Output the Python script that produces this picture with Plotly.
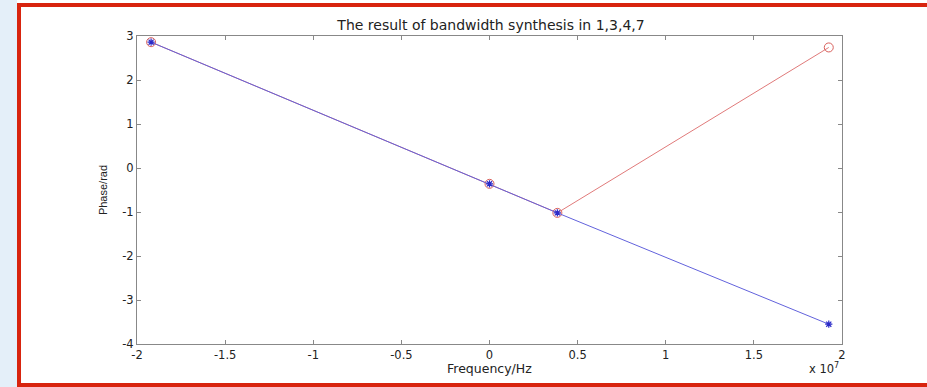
import plotly.graph_objects as go

# Data
freq_hz = [-1.92e7, 0.0, 0.385e7, 1.925e7]
phase_measured = [2.86, -0.36, -1.02, 2.74]      # red, circles
phase_synth = [2.86, -0.36, -1.02, -3.55]        # blue, stars

x_tick_vals = [-2e7, -1.5e7, -1e7, -0.5e7, 0, 0.5e7, 1e7, 1.5e7, 2e7]
x_tick_text = ["-2", "-1.5", "-1", "-0.5", "0", "0.5", "1", "1.5", "2"]
y_tick_vals = [-4, -3, -2, -1, 0, 1, 2, 3]
y_tick_text = ["-4", "-3", "-2", "-1", "0", "1", "2", "3"]

W, H = 927, 387
L, R, T, B = 137, 842, 36, 344  # plot area pixels


def px(x):
    return (x - L) / (R - L)


def py(y):
    return (B - y) / (B - T)


fig = go.Figure()
fig.add_trace(go.Scatter(
    x=freq_hz, y=phase_measured, mode="lines+markers",
    line=dict(color="#e07a7a", width=1),
    marker=dict(symbol="circle-open", size=9, color="#d9605c", line=dict(width=1)),
    showlegend=False,
))
fig.add_trace(go.Scatter(
    x=freq_hz, y=phase_synth, mode="lines+markers",
    line=dict(color="#6262dc", width=1),
    marker=dict(symbol="asterisk-open", size=6, color="#2a2ac8", line=dict(width=1.2, color="#2a2ac8")),
    showlegend=False,
))

shapes = [
    # light blue strip on the left
    dict(type="rect", xref="paper", yref="paper", x0=px(0), x1=px(17), y0=py(H), y1=py(0),
         fillcolor="#e4eff9", line=dict(width=0), layer="below"),
    # red frame
    dict(type="rect", xref="paper", yref="paper", x0=px(17), x1=px(W), y0=py(7), y1=py(3),
         fillcolor="#d8240e", line=dict(width=0)),
    dict(type="rect", xref="paper", yref="paper", x0=px(17), x1=px(21), y0=py(H), y1=py(3),
         fillcolor="#d8240e", line=dict(width=0)),
    dict(type="rect", xref="paper", yref="paper", x0=px(17), x1=px(W), y0=py(387), y1=py(383),
         fillcolor="#d8240e", line=dict(width=0)),
]

hfont = dict(family="DejaVu Sans, Verdana, sans-serif", size=11.5, color="#222222")
vfont = dict(family="Liberation Sans, Arial, sans-serif", size=11, color="#222222")

fig.update_layout(
    width=W, height=H,
    margin=dict(l=L, r=W - R, t=T, b=H - B),
    paper_bgcolor="white", plot_bgcolor="white",
    font=hfont,
    shapes=shapes,
    title=dict(text="The result of bandwidth synthesis in 1,3,4,7", x=px(491), xref="paper",
               xanchor="center", y=1 - 25 / H, yanchor="middle",
               font=dict(family="DejaVu Sans, Verdana, sans-serif", size=14, color="#222222")),
    xaxis=dict(range=[-2e7, 2e7], tickvals=x_tick_vals, ticktext=x_tick_text,
               showgrid=False, zeroline=False, showline=True, linecolor="#888888", linewidth=1,
               mirror="ticks", ticks="inside", ticklen=4, tickcolor="#888888",
               tickfont=hfont),
    yaxis=dict(range=[-4, 3], tickvals=y_tick_vals, ticktext=y_tick_text,
               showgrid=False, zeroline=False, showline=True, linecolor="#888888", linewidth=1,
               mirror="ticks", ticks="inside", ticklen=4, tickcolor="#888888",
               tickfont=hfont,
               title=dict(text="Phase/rad", standoff=12, font=vfont)),
    annotations=[
        dict(text="Frequency/Hz", xref="paper", yref="paper", x=px(490), y=py(368),
             xanchor="center", yanchor="middle", showarrow=False,
             font=dict(family="DejaVu Sans, Verdana, sans-serif", size=12.5, color="#222222")),
        dict(text="x 10<sup>7</sup>", xref="paper", yref="paper", x=px(841), y=py(368),
             xanchor="right", yanchor="middle", showarrow=False, font=hfont),
    ],
)

fig.write_html("out.html")
